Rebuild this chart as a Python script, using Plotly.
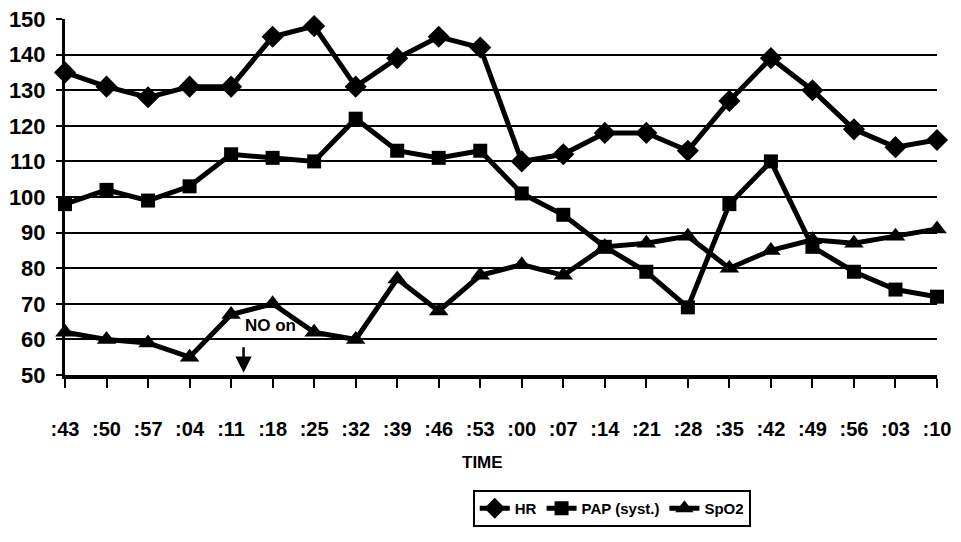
import plotly.graph_objects as go

times = [":43", ":50", ":57", ":04", ":11", ":18", ":25", ":32", ":39", ":46", ":53",
         ":00", ":07", ":14", ":21", ":28", ":35", ":42", ":49", ":56", ":03", ":10"]
hr = [135, 131, 128, 131, 131, 145, 148, 131, 139, 145, 142,
      110, 112, 118, 118, 113, 127, 139, 130, 119, 114, 116]
pap = [98, 102, 99, 103, 112, 111, 110, 122, 113, 111, 113,
       101, 95, 86, 79, 69, 98, 110, 86, 79, 74, 72]
spo2 = [62, 60, 59, 55, 67, 70, 62, 60, 77, 68, 78,
        81, 78, 86, 87, 89, 80, 85, 88, 87, 89, 91]
y_ticks = [50, 60, 70, 80, 90, 100, 110, 120, 130, 140, 150]

FONT = "Liberation Sans, Arial, sans-serif"
idx = list(range(len(times)))

fig = go.Figure()
for name, vals, sym, size in [("HR", hr, "diamond", 17),
                              ("PAP (syst.)", pap, "square", 14),
                              ("SpO2", spo2, "triangle-up", 17)]:
    fig.add_trace(go.Scatter(
        x=idx, y=vals, name=name, mode="lines+markers",
        line=dict(color="black", width=5),
        marker=dict(symbol=sym, size=size, color="black"),
        cliponaxis=False,
    ))

fig.add_annotation(x=4.95, y=64, text="NO on", showarrow=False,
                   font=dict(family=FONT, size=17, color="black", weight="bold"))
fig.add_annotation(x=4.3, y=50.6, ax=4.3, ay=58.2, axref="x", ayref="y",
                   xref="x", yref="y", text="", showarrow=True,
                   arrowhead=2, arrowsize=1.3, arrowwidth=2.5, arrowcolor="black")
fig.add_annotation(x=0.479, y=-0.247, xref="paper", yref="paper", text="TIME",
                   showarrow=False, xanchor="center", yanchor="middle",
                   font=dict(family=FONT, size=17, color="black", weight="bold"))

# page body has an 8px margin, so the figure is sized/offset to compensate
fig.update_layout(
    width=953, height=534,
    margin=dict(l=57, r=24, t=11, b=167, autoexpand=False),
    paper_bgcolor="white", plot_bgcolor="white",
    font=dict(family=FONT, color="black"),
    showlegend=True,
    legend=dict(orientation="h", x=0.627, y=-0.323, xanchor="center", yanchor="top",
                bordercolor="black", borderwidth=2,
                font=dict(family=FONT, size=15, color="black", weight="bold"),
                itemwidth=30, tracegroupgap=0),
)
fig.update_xaxes(
    range=[0, 21], tickmode="array", tickvals=idx, ticktext=times,
    showgrid=False, zeroline=False,
    showline=True, linecolor="black", linewidth=4,
    ticks="outside", ticklen=9, tickwidth=2, tickcolor="black",
    ticklabelstandoff=24, ticklabeloverflow="allow",
    tickfont=dict(family=FONT, size=20, color="black", weight="bold"),
)
fig.update_yaxes(
    range=[50, 150], tickmode="array", tickvals=y_ticks,
    showgrid=True, gridcolor="black", gridwidth=2, zeroline=False,
    showline=True, linecolor="black", linewidth=3,
    ticks="outside", ticklen=6, tickwidth=2, tickcolor="black",
    ticklabelstandoff=6, ticklabeloverflow="allow",
    tickfont=dict(family=FONT, size=22, color="black", weight="bold"),
)

fig.write_html("out.html")
